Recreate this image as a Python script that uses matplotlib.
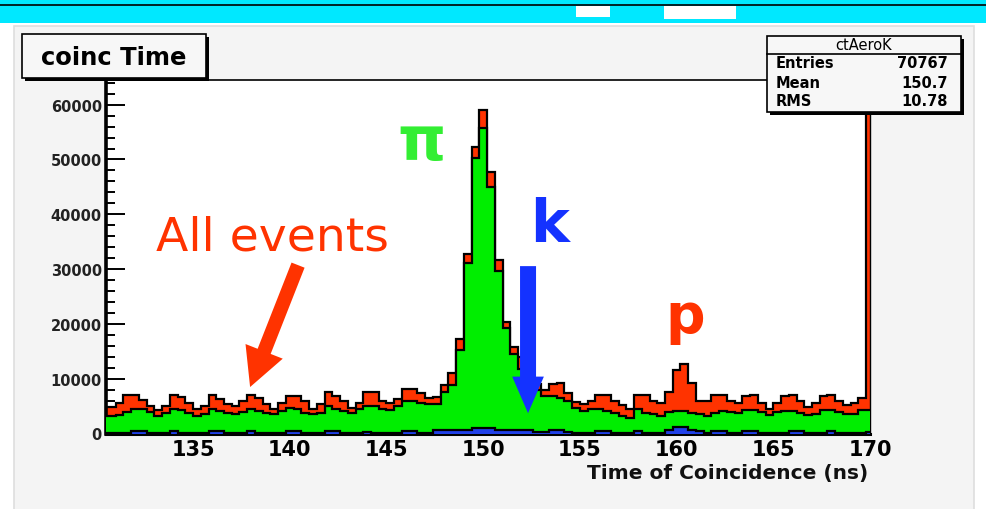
import matplotlib
matplotlib.use("Agg")
import matplotlib.pyplot as plt
import numpy as np
from matplotlib.lines import Line2D
from matplotlib.patches import Rectangle
from matplotlib.ticker import MultipleLocator

# ctAeroK histogram: 100 bins of 0.4 ns starting at 130.2 ns
BIN_LO = 130.2
BIN_W = 0.4

all_events = [
    4800, 4800, 5600, 7000, 7000, 6200, 5100, 4300, 5100, 7000,
    6600, 5600, 4500, 5100, 7000, 6300, 5300, 5100, 5900, 7000,
    6400, 5300, 4400, 5600, 6900, 6900, 5900, 4400, 5300, 7500,
    6900, 5900, 4700, 5600, 7500, 7500, 5900, 5600, 6300, 8200,
    8200, 7300, 6500, 6600, 8900, 11100, 17300, 32700, 52200, 59100,
    47800, 31600, 20400, 15700, 14000, 11500, 9000, 8000, 9000, 9200,
    7400, 5700, 5300, 5900, 7100, 7100, 5900, 5200, 4500, 7100,
    7100, 5900, 5600, 7500, 11500, 12600, 9200, 5900, 5900, 7100,
    7100, 5900, 5600, 6900, 7100, 5600, 4500, 5500, 6800, 7100,
    5900, 4900, 5500, 6900, 7100, 5900, 5200, 5500, 6500, 120000,
]
pions = [
    3200, 3200, 3300, 3900, 4500, 4500, 3900, 3200, 3800, 4500,
    4200, 3800, 3200, 3600, 4500, 4100, 3700, 3600, 3900, 4500,
    4100, 3800, 3600, 4100, 4700, 4400, 3800, 3500, 3800, 5000,
    4500, 4100, 3700, 4400, 5000, 5000, 4400, 4300, 5100, 5900,
    5900, 5600, 5300, 5400, 7500, 8900, 15300, 31200, 50300, 55800,
    44900, 29600, 19300, 14500, 11800, 9800, 8000, 6900, 6900, 6500,
    6000, 4700, 4100, 4400, 4500, 4100, 3800, 3200, 2900, 4400,
    3800, 3500, 3200, 3900, 4100, 4100, 3800, 3500, 3200, 3800,
    4100, 3900, 3800, 4300, 4300, 3900, 3300, 3900, 4100, 4100,
    3800, 3300, 3600, 4300, 4300, 3900, 3500, 3600, 4300, 4300,
]
kaons = [
    100, 100, 100, 100, 500, 500, 100, 100, 100, 450,
    100, 100, 100, 100, 450, 400, 100, 100, 100, 450,
    100, 100, 100, 100, 400, 450, 100, 100, 100, 450,
    400, 100, 100, 100, 300, 100, 100, 100, 100, 500,
    450, 100, 100, 600, 600, 600, 600, 600, 1000, 1000,
    1000, 600, 600, 600, 600, 600, 300, 200, 600, 600,
    200, 100, 100, 100, 500, 500, 100, 100, 100, 450,
    100, 100, 100, 700, 1100, 1100, 700, 500, 100, 500,
    450, 100, 100, 500, 500, 100, 100, 100, 100, 450,
    400, 100, 100, 100, 450, 100, 100, 100, 100, 200,
]

x_ticks = [135, 140, 145, 150, 155, 160, 165, 170]
y_ticks = [0, 10000, 20000, 30000, 40000, 50000, 60000]
stats_labels = ["Entries", "Mean", "RMS"]
stats_values = ["70767", "150.7", "10.78"]

RED = "#ff3300"
GREEN = "#00ee00"
BLUE = "#2040e8"
TXT_GREEN = "#33ee33"
TXT_BLUE = "#1432ff"

W, H = 986, 510
plt.rcParams["font.family"] = ["DejaVu Sans"]
fig = plt.figure(figsize=(W / 100, H / 100), dpi=100)
fig.patch.set_facecolor("white")


def px_rect(x0, y0, x1, y1, **kw):
    """Rectangle given in pixel coords (origin top-left)."""
    return Rectangle((x0 / W, 1 - y1 / H), (x1 - x0) / W, (y1 - y0) / H,
                     transform=fig.transFigure, **kw)


def px_text(x, y, s, **kw):
    return fig.text(x / W, 1 - y / H, s, **kw)


# screen decoration: cyan bar on top and grey canvas
fig.add_artist(px_rect(0, 0, W, 24, fc="#00e8ff", ec="none", zorder=-2))
fig.add_artist(Line2D([0, 1], [1 - 6 / H, 1 - 6 / H], transform=fig.transFigure,
                      color="black", lw=1.2, zorder=-1))
fig.add_artist(px_rect(576, 7, 610, 18, fc="white", ec="none", zorder=-1))
fig.add_artist(px_rect(664, 7, 736, 20, fc="white", ec="none", zorder=-1))
fig.add_artist(px_rect(14, 27, 974, 512, fc="#f4f4f4", ec="#dedede", lw=1.2, zorder=-2))

ax = fig.add_axes([106 / W, 1 - 434.5 / H, (870 - 106) / W, (434.5 - 81) / H])
ax.set_facecolor("white")

edges = BIN_LO + BIN_W * np.arange(len(all_events) + 1)
ax.stairs(all_events, edges, fill=True, color=RED, zorder=2)
ax.stairs(all_events, edges, baseline=0, color="black", lw=1.6, zorder=2.1)
ax.stairs(pions, edges, fill=True, color=GREEN, zorder=3)
ax.stairs(pions, edges, baseline=0, color="black", lw=1.6, zorder=3.1)
ax.stairs(kaons, edges, fill=True, color=BLUE, zorder=4)
ax.stairs(kaons, edges, baseline=0, color="black", lw=1.6, zorder=4.1)

ax.set_xlim(130.5, 170.0)
ax.set_ylim(0, 64500)
ax.set_axisbelow(True)

ax.set_xticks(x_ticks)
ax.set_xticklabels([str(v) for v in x_ticks], fontsize=15, fontweight="bold")
ax.tick_params(axis="x", length=0, pad=4)

ax.set_yticks(y_ticks)
ax.set_yticklabels([str(v) for v in y_ticks], fontsize=10.5, fontweight="bold",
                   color="#222222")
ax.yaxis.set_minor_locator(MultipleLocator(2000))
ax.tick_params(axis="y", which="major", direction="in", length=14, width=1.4, pad=3)
ax.tick_params(axis="y", which="minor", direction="in", length=6.5, width=1.4)

ax.spines["left"].set_linewidth(2.6)
ax.spines["bottom"].set_linewidth(2.2)
ax.spines["top"].set_linewidth(1.2)
ax.spines["right"].set_linewidth(1.0)

px_text(868, 474, "Time of Coincidence (ns)", ha="right", va="center",
        fontsize=14.5, fontweight="bold", color="#111111")

# title box
fig.add_artist(px_rect(25, 38, 209, 82, fc="black", ec="none", zorder=3))
fig.add_artist(px_rect(22, 35, 206, 79, fc="#f7f7f7", ec="black", lw=1.2, zorder=3.1))
px_text(114, 58, "coinc Time", ha="center", va="center", fontsize=17.5,
        fontweight="bold", zorder=4)

# stats box
fig.add_artist(px_rect(770, 40, 964, 116, fc="black", ec="none", zorder=3))
fig.add_artist(px_rect(767, 37, 961, 113, fc="#f7f7f7", ec="black", lw=1.2, zorder=3.1))
fig.add_artist(Line2D([767 / W, 961 / W], [1 - 55 / H, 1 - 55 / H],
                      transform=fig.transFigure, color="black", lw=1.2, zorder=3.2))
px_text(864, 46, "ctAeroK", ha="center", va="center", fontsize=10.5, zorder=4)
for i, (lab, val) in enumerate(zip(stats_labels, stats_values)):
    yy = 64 + 19 * i
    px_text(776, yy, lab, ha="left", va="center", fontsize=10.5,
            fontweight="bold", zorder=4)
    px_text(948, yy, val, ha="right", va="center", fontsize=10.5,
            fontweight="bold", zorder=4)

# annotations
ax.text(146.84, 53150, "\u03c0", color=TXT_GREEN, fontsize=44, fontweight="bold",
        ha="center", va="center", zorder=6)
ax.text(139.08, 35820, "All events", color=RED, fontsize=34,
        ha="center", va="center", zorder=6)
ax.annotate("", xy=(137.95, 8480), xytext=(140.43, 30720),
            arrowprops=dict(arrowstyle="simple,head_length=1.15,head_width=1.2,tail_width=0.42",
                            fc=RED, ec="none", mutation_scale=24, shrinkA=0, shrinkB=0),
            zorder=6)
ax.text(153.41, 38100, "k", color=TXT_BLUE, fontsize=42, fontweight="bold",
        ha="center", va="center", zorder=6)
ax.annotate("", xy=(152.32, 3690), xytext=(152.32, 30540),
            arrowprops=dict(arrowstyle="simple,head_length=1.1,head_width=0.95,tail_width=0.48",
                            fc=TXT_BLUE, ec="none", mutation_scale=24, shrinkA=0, shrinkB=0),
            zorder=6)
ax.text(160.44, 21240, "p", color=RED, fontsize=40, fontweight="bold",
        ha="center", va="center", zorder=6)

fig.savefig("out.png", dpi=100)
